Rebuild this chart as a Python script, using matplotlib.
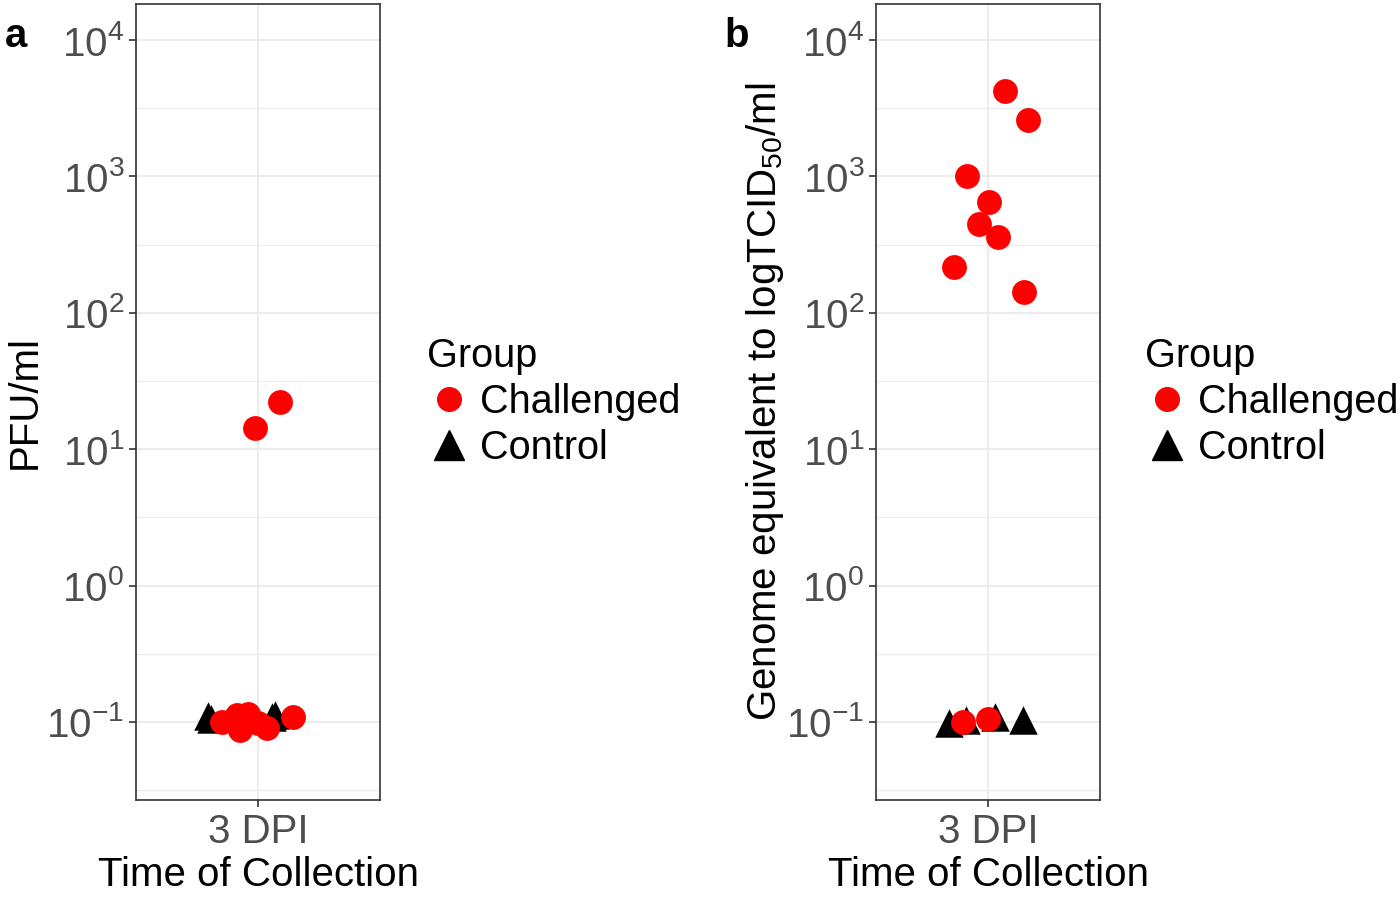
import numpy as np
import matplotlib.pyplot as plt
from matplotlib.lines import Line2D

plt.rcParams['font.family'] = ['Liberation Sans', 'DejaVu Sans']
plt.rcParams['mathtext.fontset'] = 'custom'
plt.rcParams['mathtext.rm'] = 'Liberation Sans'
plt.rcParams['mathtext.it'] = 'Liberation Sans:italic'

# panel a : PFU/ml (x is jittered position around "3 DPI" = 1)
a_chal_x = [0.985, 1.108, 0.897, 0.951, 0.911, 1.044, 1.172, 0.823, 0.93, 1.0]
a_chal_y = [14.3, 22.0, 0.112, 0.115, 0.087, 0.090, 0.108, 0.100, 0.105, 0.098]
a_ctrl_x = [0.754, 0.77, 1.084, 1.07]
a_ctrl_y = [0.110, 0.105, 0.112, 0.108]

# panel b : genome equivalents
b_chal_x = [1.091, 1.214, 0.888, 1.005, 0.952, 1.053, 0.818, 1.193, 0.866, 1.0]
b_chal_y = [4230, 2590, 1006, 649, 448, 360, 217, 142, 0.100, 0.105]
b_ctrl_x = [0.79, 0.88, 1.04, 1.19]
b_ctrl_y = [0.098, 0.104, 0.108, 0.103]

xcat = ['3 DPI']
decades = [-1, 0, 1, 2, 3, 4]

fig = plt.figure(figsize=(14, 8.97), dpi=100)
ax_a = fig.add_axes([136/1400, 1-800/897, 244/1400, 796/897])
ax_b = fig.add_axes([876/1400, 1-800/897, 224/1400, 796/897])

grey = '#4D4D4D'
for ax, cx, cy, tx, ty in [(ax_a, a_chal_x, a_chal_y, a_ctrl_x, a_ctrl_y),
                           (ax_b, b_chal_x, b_chal_y, b_ctrl_x, b_ctrl_y)]:
    ax.set_yscale('log')
    ax.set_ylim(10**-1.572, 10**4.264)
    ax.set_xlim(0.4, 1.6)
    # grid: major + half-decade minor lines
    for d in decades:
        ax.axhline(10.0**d, color='#EBEBEB', lw=1.3, zorder=0)
    for d in [-1.5, -0.5, 0.5, 1.5, 2.5, 3.5]:
        ax.axhline(10.0**d, color='#EBEBEB', lw=0.8, zorder=0)
    ax.axvline(1, color='#EBEBEB', lw=1.3, zorder=0)
    ax.scatter(tx, ty, marker='^', s=420, color='black', zorder=3, linewidths=0)
    ax.scatter(cx, cy, marker='o', s=320, color='#FF0000', zorder=4, linewidths=0)
    ax.set_yticks([10.0**d for d in decades])
    ax.set_yticklabels([r'$10^{%d}$' % d for d in decades])
    ax.minorticks_off()
    ax.set_xticks([1])
    ax.set_xticklabels(xcat)
    ax.tick_params(axis='both', colors='#333333', labelcolor=grey, labelsize=29,
                   length=5, width=1.2)
    ax.tick_params(axis='x', pad=4)
    for sp in ax.spines.values():
        sp.set_color('#333333')
        sp.set_linewidth(1.2)
    ax.set_xlabel('Time of Collection', fontsize=29, labelpad=4)

ax_a.set_ylabel('PFU/ml', fontsize=29, labelpad=2)
ax_b.set_ylabel(r'Genome equivalent to logTCID$_{50}$/ml', fontsize=29, labelpad=0)

fig.text(5/1400, 1-47/897, 'a', fontsize=29, fontweight='bold')
fig.text(724/1400, 1-47/897, 'b', fontsize=29, fontweight='bold')

handles = [Line2D([], [], marker='o', ls='', color='#FF0000', markersize=17),
           Line2D([], [], marker='^', ls='', color='black', markersize=21)]
labels = ['Challenged', 'Control']
for xpos in [411/1400, 1129/1400]:
    leg = fig.legend(handles, labels, title='Group', loc='upper left',
                     bbox_to_anchor=(xpos, 1-321/897), frameon=False,
                     fontsize=28.5, title_fontsize=28.5, handletextpad=0.25,
                     labelspacing=0.2, borderaxespad=0, handlelength=1.1)
    leg._legend_box.align = 'left'

fig.savefig('out.png', dpi=100)
